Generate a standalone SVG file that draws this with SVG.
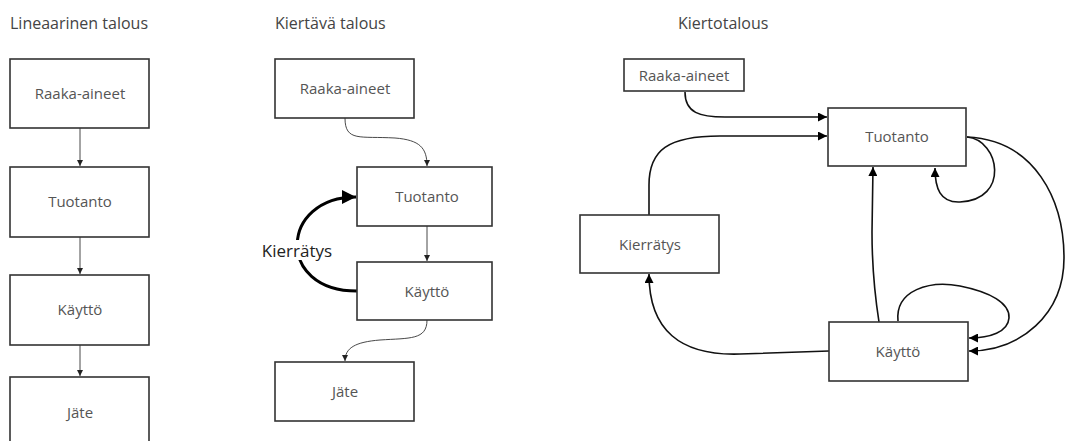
<svg xmlns="http://www.w3.org/2000/svg" width="1068" height="441" viewBox="0 0 1068 441">
<defs>
<style>
.box{fill:#fff;stroke:#333;stroke-width:1.6}
.t{font-family:"Open Sans","Liberation Sans",sans-serif;font-size:15px;fill:#555;text-anchor:middle;dominant-baseline:central}
.title{font-family:"Open Sans","Liberation Sans",sans-serif;font-size:16px;fill:#444}
.thin{fill:none;stroke:#333;stroke-width:0.9}
.med{fill:none;stroke:#111;stroke-width:1.6}
.thick{fill:none;stroke:#000;stroke-width:3}
</style>
<marker id="ah" viewBox="0 0 10 10" refX="10" refY="5" markerWidth="6" markerHeight="10" markerUnits="userSpaceOnUse" orient="auto"><path d="M0,0 L10,5 L0,10 z" fill="#222"/></marker>
<marker id="ah2" viewBox="0 0 10 10" refX="10" refY="5" markerWidth="12" markerHeight="9" markerUnits="userSpaceOnUse" orient="auto"><path d="M0,0 L10,5 L0,10 z" fill="#000"/></marker>
<marker id="ah3" viewBox="0 0 10 10" refX="10" refY="5" markerWidth="20" markerHeight="14" markerUnits="userSpaceOnUse" orient="auto"><path d="M0,0 L10,5 L0,10 z" fill="#000"/></marker>
</defs>
<rect width="1068" height="441" fill="#fff"/>

<text class="title" x="10" y="29">Lineaarinen talous</text>
<text class="title" x="275" y="29">Kiertävä talous</text>
<text class="title" x="678" y="29">Kiertotalous</text>

<g id="connectors">
<!-- linear -->
<line class="thin" x1="80" y1="128" x2="80" y2="166" marker-end="url(#ah)"/>
<line class="thin" x1="80" y1="237" x2="80" y2="274" marker-end="url(#ah)"/>
<line class="thin" x1="80" y1="345" x2="80" y2="376" marker-end="url(#ah)"/>
<!-- kiertävä -->
<path class="thin" d="M345,118 C345,142 360,136 395,138 C420,140 427,148 427,166" marker-end="url(#ah)"/>
<line class="thin" x1="427" y1="226" x2="427" y2="261" marker-end="url(#ah)"/>
<path class="thin" d="M427,320 C427,340 410,338 380,340 C355,342 345,348 345,361" marker-end="url(#ah)"/>
<path class="thick" d="M357,291 C275,291 280,197 356,197" marker-end="url(#ah3)"/>
<!-- kiertotalous -->
<path class="med" d="M685,92 C685,113 700,117 725,117 L827,117" marker-end="url(#ah2)"/>
<path class="med" d="M649,215 L649,185 C649,150 668,136 720,136 L827,136" marker-end="url(#ah2)"/>
<path class="med" d="M879,322 C874,290 872,262 872,232 L873,167" marker-end="url(#ah2)"/>
<path class="med" d="M967,137 C1000,140 1010,200 960,202 C940,203 935,188 935,168" marker-end="url(#ah2)"/>
<path class="med" d="M967,137 C1035,140 1064,200 1064,258 C1064,315 1020,351 969,351" marker-end="url(#ah2)"/>
<path class="med" d="M898,321 C895,290 930,280 960,286 C990,292 1010,303 1009,318 C1008,332 990,338 969,338" marker-end="url(#ah2)"/>
<path class="med" d="M829,351 L740,354 C680,356 649,330 649,274" marker-end="url(#ah2)"/>
</g>

<g id="linear-raaka"><rect class="box" x="10" y="59" width="139" height="69"/><text class="t" x="80" y="93">Raaka-aineet</text></g>
<g id="linear-tuotanto"><rect class="box" x="10" y="167" width="139" height="70"/><text class="t" x="80" y="201">Tuotanto</text></g>
<g id="linear-kaytto"><rect class="box" x="10" y="275" width="139" height="70"/><text class="t" x="80" y="309">Käyttö</text></g>
<g id="linear-jate"><rect class="box" x="10" y="377" width="139" height="70"/><text class="t" x="80" y="412">Jäte</text></g>

<g id="kv-raaka"><rect class="box" x="275" y="59" width="139" height="59"/><text class="t" x="345" y="88">Raaka-aineet</text></g>
<g id="kv-tuotanto"><rect class="box" x="357" y="167" width="135" height="59"/><text class="t" x="427" y="196">Tuotanto</text></g>
<g id="kv-kaytto"><rect class="box" x="357" y="262" width="135" height="58"/><text class="t" x="427" y="291">Käyttö</text></g>
<g id="kv-jate"><rect class="box" x="275" y="362" width="139" height="59"/><text class="t" x="345" y="391">Jäte</text></g>
<g id="kv-kierratys-label"><rect x="262" y="240" width="72" height="20" fill="#fff"/><text x="297" y="250" style="font-family:'Open Sans','Liberation Sans',sans-serif;font-size:17px;fill:#222;text-anchor:middle;dominant-baseline:central">Kierrätys</text></g>

<g id="kt-raaka"><rect class="box" x="624" y="59" width="120" height="32"/><text class="t" x="684" y="75">Raaka-aineet</text></g>
<g id="kt-tuotanto"><rect class="box" x="828" y="108" width="138" height="58"/><text class="t" x="897" y="136">Tuotanto</text></g>
<g id="kt-kierratys"><rect class="box" x="580" y="215" width="139" height="58"/><text class="t" x="650" y="244">Kierrätys</text></g>
<g id="kt-kaytto"><rect class="box" x="829" y="322" width="139" height="59"/><text class="t" x="898" y="351">Käyttö</text></g>
</svg>
